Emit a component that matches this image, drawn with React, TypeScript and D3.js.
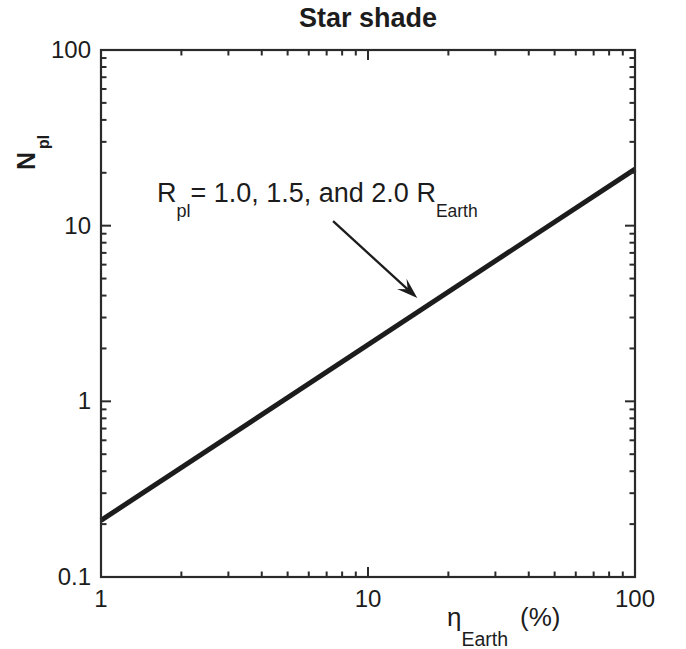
import React from "react";
import * as d3 from "d3";

// values
const etaValues = [1, 100];
const nplValues = [0.21, 21];
const xTickLabels = ["1", "10", "100"];
const yTickLabels = ["0.1", "1", "10", "100"];
const arrowTail = [7.4, 10.6];
const arrowTip = [15.3, 3.87];
const noteAnchor = [1.62, 13.7];

const W = 686, H = 649;
const margin = { top: 50, right: 51, bottom: 72, left: 101 };
const font = "'Liberation Sans', Arial, Helvetica, sans-serif";
const ink = "#1c1c1c";

export default function App() {
  const x = d3.scaleLog().domain([1, 100]).range([margin.left, W - margin.right]);
  const y = d3.scaleLog().domain([0.1, 100]).range([H - margin.bottom, margin.top]);

  const x0 = x.range()[0], x1 = x.range()[1];
  const y0 = y.range()[0], y1 = y.range()[1];

  const isMajor = (v: number) => Math.abs(Math.log10(v) - Math.round(Math.log10(v))) < 1e-6;
  const xTicks = x.ticks();
  const yTicks = y.ticks();

  const line = d3.line<number>()
    .x((_, i) => x(etaValues[i]))
    .y((d) => y(d));

  // arrow
  const tx = x(arrowTail[0]), ty = y(arrowTail[1]);
  const hx = x(arrowTip[0]), hy = y(arrowTip[1]);
  const ang = Math.atan2(hy - ty, hx - tx);
  const L = 21, Wd = 7, notch = 13;
  const pt = (along: number, side: number) => [
    hx - along * Math.cos(ang) - side * Math.sin(ang),
    hy - along * Math.sin(ang) + side * Math.cos(ang),
  ];
  const w1 = pt(L, Wd), w2 = pt(L, -Wd), nb = pt(notch, 0);
  const head = `M${hx},${hy}L${w1[0]},${w1[1]}L${nb[0]},${nb[1]}L${w2[0]},${w2[1]}Z`;

  return (
    <svg width={W} height={H} style={{ position: "fixed", left: 0, top: 0, background: "#fff" }}
      fontFamily={font}>
      <text x={(x0 + x1) / 2} y={27} textAnchor="middle" fontSize={27} fontWeight="bold" fill={ink}>
        Star shade
      </text>

      {/* the line */}
      <path d={line(nplValues) || ""} fill="none" stroke={ink} strokeWidth={5} />

      {/* frame */}
      <rect x={x0} y={y1} width={x1 - x0} height={y0 - y1} fill="none" stroke="#2a2a2a" strokeWidth={2.2} />

      {/* x ticks, bottom and top, pointing in */}
      {xTicks.map((t, i) => {
        const len = isMajor(t) ? 10 : 5.5;
        return (
          <g key={"x" + i} stroke="#2a2a2a" strokeWidth={2}>
            <line x1={x(t)} x2={x(t)} y1={y0} y2={y0 - len} />
            <line x1={x(t)} x2={x(t)} y1={y1} y2={y1 + len} />
          </g>
        );
      })}
      {yTicks.map((t, i) => {
        const len = isMajor(t) ? 10 : 5.5;
        return (
          <g key={"y" + i} stroke="#2a2a2a" strokeWidth={2}>
            <line x1={x0} x2={x0 + len} y1={y(t)} y2={y(t)} />
            <line x1={x1} x2={x1 - len} y1={y(t)} y2={y(t)} />
          </g>
        );
      })}

      {xTickLabels.map((s) => (
        <text key={"xl" + s} x={x(+s)} y={607} textAnchor="middle" fontSize={24} fill={ink}>{s}</text>
      ))}
      {yTickLabels.map((s) => (
        <text key={"yl" + s} x={x0 - 10} y={y(+s) + 8} textAnchor="end" fontSize={24} fill={ink}>{s}</text>
      ))}

      {/* axis titles */}
      <text x={447} y={626} fontSize={26} fill={ink}>
        η<tspan fontSize={19.5} dy={20}>Earth</tspan>
        <tspan dy={-20} dx={12}>(%)</tspan>
      </text>
      <text transform="translate(35,170) rotate(-90)" fontSize={25} fontWeight="bold" fill={ink}>
        N<tspan fontSize={16} dy={14} dx={3}>pl</tspan>
      </text>

      {/* annotation */}
      <text x={x(noteAnchor[0])} y={y(noteAnchor[1])} fontSize={27} fill={ink}>
        R<tspan fontSize={18} dy={15}>pl</tspan>
        <tspan dy={-15}>= 1.0, 1.5, and 2.0 R</tspan>
        <tspan fontSize={17.5} dy={15}>Earth</tspan>
      </text>
      <line x1={tx} y1={ty} x2={nb[0]} y2={nb[1]} stroke={ink} strokeWidth={2.3} />
      <path d={head} fill={ink} />
    </svg>
  );
}
